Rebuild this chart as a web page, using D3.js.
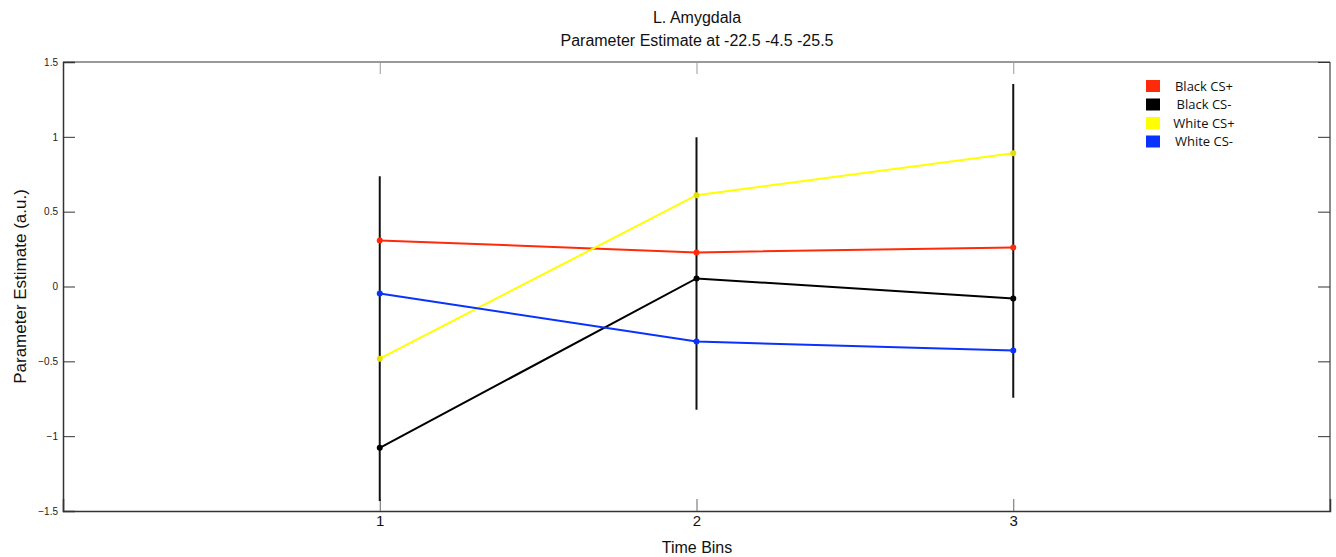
<!DOCTYPE html>
<html>
<head>
<meta charset="utf-8">
<script src="https://cdn.jsdelivr.net/npm/d3@7"></script>
<style>
  body { margin: 0; background: #fff; }
  text { font-family: "Liberation Sans", Arial, sans-serif; }
</style>
</head>
<body>
<div id="chart"></div>
<script>
const timeBins = [1, 2, 3];
const seriesNames = ['Black CS+', 'Black CS-', 'White CS+', 'White CS-'];
const seriesColors = ['#ff2a0a', '#000000', '#ffff00', '#0a32ff'];
const blackCSPlus = [0.308, 0.228, 0.261];
const blackCSMinus = [-1.078, 0.054, -0.08];
const whiteCSPlus = [-0.482, 0.61, 0.89];
const whiteCSMinus = [-0.047, -0.368, -0.428];
const errLow = [-1.433, -0.824, -0.743];
const errHigh = [0.737, 0.998, 1.353];
const yTicks = [-1.5, -1, -0.5, 0, 0.5, 1, 1.5];

const width = 1336, height = 557;
const margin = { top: 62, right: 6, bottom: 46, left: 63 };
const innerW = width - margin.left - margin.right;
const innerH = height - margin.top - margin.bottom;

const svg = d3.select('#chart').append('svg')
    .attr('width', width)
    .attr('height', height);

const g = svg.append('g')
    .attr('transform', `translate(${margin.left},${margin.top})`);

const xScale = d3.scaleLinear().domain([0, 4]).range([0, innerW]);
const yScale = d3.scaleLinear().domain([-1.5, 1.5]).range([innerH, 0]);

// box
g.append('line').attr('x1', 0).attr('x2', innerW).attr('y1', 0).attr('y2', 0)
    .attr('stroke', '#999').attr('stroke-width', 2);
g.append('line').attr('x1', innerW).attr('x2', innerW).attr('y1', 0).attr('y2', innerH)
    .attr('stroke', '#666').attr('stroke-width', 1.5);

// left axis, inner ticks
const yAxis = d3.axisLeft(yScale).tickValues(yTicks).tickSize(-12).tickPadding(5)
    .tickFormat(d => d3.format('')(d));
const yg = g.append('g').call(yAxis);
yg.select('.domain').attr('stroke', '#333').attr('stroke-width', 1.5);
yg.selectAll('.tick line').attr('stroke', '#333');
yg.selectAll('.tick text').attr('font-size', 10).attr('fill', '#222');

// right ticks
const yRight = d3.axisRight(yScale).tickValues(yTicks).tickSize(-12).tickFormat('');
const yrg = g.append('g').attr('transform', `translate(${innerW},0)`).call(yRight);
yrg.select('.domain').remove();
yrg.selectAll('.tick line').attr('stroke', '#333');

// bottom axis
const xAxis = d3.axisBottom(xScale).tickValues(timeBins).tickSize(-12).tickPadding(4)
    .tickFormat(d3.format('d'));
const xg = g.append('g').attr('transform', `translate(0,${innerH})`).call(xAxis);
xg.select('.domain').attr('stroke', '#333').attr('stroke-width', 1.5);
xg.selectAll('.tick line').attr('stroke', '#666');
xg.selectAll('.tick text').attr('font-size', 15).attr('fill', '#111');

// top ticks
const xTop = d3.axisTop(xScale).tickValues(timeBins).tickSize(-12).tickFormat('');
const xtg = g.append('g').call(xTop);
xtg.select('.domain').remove();
xtg.selectAll('.tick line').attr('stroke', '#999');

// error bars
g.selectAll('.err').data(timeBins).enter().append('line')
    .attr('class', 'err')
    .attr('x1', d => xScale(d)).attr('x2', d => xScale(d))
    .attr('y1', (d, i) => yScale(errHigh[i]))
    .attr('y2', (d, i) => yScale(errLow[i]))
    .attr('stroke', '#111').attr('stroke-width', 2);

// series
const allSeries = [blackCSPlus, blackCSMinus, whiteCSPlus, whiteCSMinus];
const line = d3.line().x((d, i) => xScale(timeBins[i])).y(d => yScale(d));

allSeries.forEach((vals, s) => {
    g.append('path').datum(vals)
        .attr('d', line)
        .attr('fill', 'none')
        .attr('stroke', seriesColors[s])
        .attr('stroke-width', 2);
    g.selectAll(`.dot${s}`).data(vals).enter().append('circle')
        .attr('cx', (d, i) => xScale(timeBins[i]))
        .attr('cy', d => yScale(d))
        .attr('r', 3)
        .attr('fill', s === 2 ? '#e6e000' : seriesColors[s]);
});

// legend
const legend = svg.append('g');
seriesNames.forEach((name, i) => {
    const cy = 86 + i * 18.5;
    legend.append('rect')
        .attr('x', 1146).attr('y', cy - 6)
        .attr('width', 14).attr('height', 12)
        .attr('fill', seriesColors[i]);
    legend.append('text')
        .attr('x', 1204).attr('y', cy + 4.5)
        .attr('text-anchor', 'middle')
        .attr('font-size', 13)
        .style('font-family', '"Open Sans", sans-serif')
        .attr('fill', '#111')
        .text(name);
});

// titles
svg.append('text').attr('x', 697).attr('y', 23)
    .attr('text-anchor', 'middle').attr('font-size', 16).attr('fill', '#111')
    .text('L. Amygdala');
svg.append('text').attr('x', 697).attr('y', 46)
    .attr('text-anchor', 'middle').attr('font-size', 16).attr('fill', '#111')
    .text('Parameter Estimate at -22.5 -4.5 -25.5');

// axis labels
svg.append('text').attr('x', 697).attr('y', 553)
    .attr('text-anchor', 'middle').attr('font-size', 16).attr('fill', '#111')
    .text('Time Bins');
svg.append('text')
    .attr('transform', `translate(26,${margin.top + innerH / 2}) rotate(-90)`)
    .attr('text-anchor', 'middle').attr('font-size', 17).attr('fill', '#111')
    .text('Parameter Estimate (a.u.)');
</script>
</body>
</html>
